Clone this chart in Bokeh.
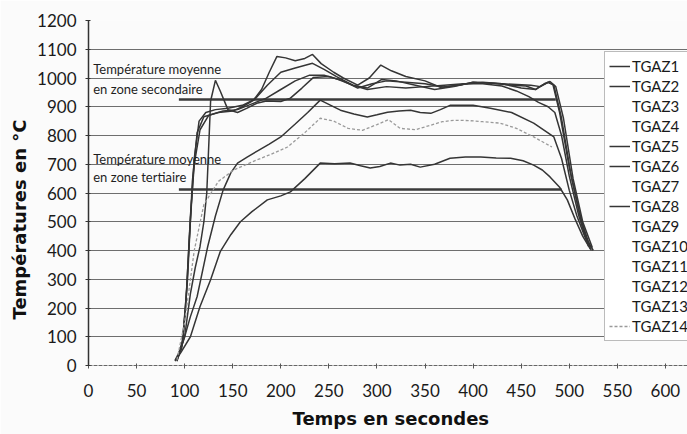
from bokeh.plotting import figure
from bokeh.models import FixedTicker, Label, Legend, LegendItem, Grid, Range1d, Title
from bokeh.embed import file_html
from bokeh.resources import INLINE

# ---------------- data ----------------
x_ticks = [0, 50, 100, 150, 200, 250, 300, 350, 400, 450, 500, 550, 600]
y_ticks = [0, 100, 200, 300, 400, 500, 600, 700, 800, 900, 1000, 1100, 1200]
series_names = ["TGAZ1", "TGAZ2", "TGAZ3", "TGAZ4", "TGAZ5", "TGAZ6", "TGAZ7",
                "TGAZ8", "TGAZ9", "TGAZ10", "TGAZ11", "TGAZ12", "TGAZ13", "TGAZ14"]

t_tgaz1 = [92, 97, 101, 105, 110, 115, 122, 132, 145, 160, 172, 180, 188, 196, 205, 215, 225, 233, 242,
           255, 265, 280, 292, 304, 315, 330, 350, 366, 385, 400, 420, 440, 455, 465, 472, 478, 483, 490,
           500, 510, 518, 525]
v_tgaz1 = [20, 60, 200, 450, 720, 850, 880, 890, 895, 905, 925, 960, 1020, 1075, 1070, 1060, 1068, 1082,
           1050, 1020, 1000, 975, 1000, 1045, 1025, 1005, 990, 968, 975, 985, 982, 975, 972, 960, 975, 985,
           978, 880, 690, 540, 440, 400]

t_tgaz2 = [92, 98, 103, 108, 113, 120, 135, 150, 160, 172, 186, 200, 215, 233, 245, 258, 275, 290, 305,
           320, 340, 360, 380, 400, 430, 460, 470, 478, 484, 492, 502, 512, 522]
v_tgaz2 = [15, 80, 300, 640, 810, 865, 880, 885, 900, 923, 975, 1020, 1035, 1051, 1030, 1005, 975, 965,
           995, 990, 975, 960, 970, 985, 980, 975, 970, 985, 975, 860, 660, 510, 410]

t_tgaz3 = [92, 100, 106, 113, 124, 132, 140, 148, 155, 165, 175, 188, 200, 215, 228, 241, 252, 262, 276,
           290, 300, 311, 323, 335, 345, 356, 366, 376, 388, 400, 418, 440, 463, 484, 492, 500, 508, 516, 523]
v_tgaz3 = [20, 100, 170, 240, 414, 520, 610, 670, 704, 725, 745, 770, 795, 840, 880, 923, 905, 888, 875,
           864, 872, 881, 885, 888, 880, 877, 890, 905, 905, 905, 895, 880, 843, 795, 720, 610, 520, 450, 400]

t_tgaz4, v_tgaz4 = [], []

t_tgaz5 = [92, 98, 102, 106, 110, 116, 125, 140, 155, 170, 185, 200, 215, 230, 245, 260, 275, 290, 310,
           330, 350, 370, 390, 410, 430, 445, 458, 468, 478, 485, 492, 500, 510, 520]
v_tgaz5 = [20, 90, 260, 520, 700, 820, 870, 885, 890, 910, 930, 960, 990, 1010, 1010, 995, 975, 960, 970,
           965, 970, 975, 980, 980, 972, 955, 935, 915, 900, 880, 800, 660, 520, 415]

t_tgaz6 = [90, 95, 100, 106, 111, 116, 120, 123, 125, 127, 132, 137, 145, 155, 165, 175, 185, 200, 210,
           222, 234, 250, 265, 280, 295, 310, 330, 350, 370, 390, 410, 430, 450, 465, 474, 480, 486, 494,
           504, 514, 524]
v_tgaz6 = [18, 50, 100, 250, 340, 414, 500, 600, 760, 920, 992, 955, 890, 880, 895, 912, 920, 918, 930,
           965, 1002, 1005, 990, 965, 980, 990, 985, 980, 968, 978, 985, 980, 965, 960, 980, 988, 970, 860,
           650, 500, 410]

t_tgaz7, v_tgaz7 = [], []

t_tgaz8 = [90, 96, 106, 116, 127, 137, 148, 158, 170, 186, 200, 210, 225, 241, 256, 272, 283, 293, 303,
           314, 324, 335, 345, 360, 376, 392, 408, 424, 439, 452, 463, 472, 480, 490, 498, 506, 514, 522]
v_tgaz8 = [15, 45, 100, 205, 298, 396, 455, 500, 535, 576, 590, 604, 650, 704, 702, 704, 695, 687, 692,
           704, 697, 700, 690, 700, 721, 725, 725, 722, 721, 712, 697, 680, 656, 620, 576, 510, 450, 405]

t_tgaz9, v_tgaz9 = [], []
t_tgaz10, v_tgaz10 = [], []
t_tgaz11, v_tgaz11 = [], []
t_tgaz12, v_tgaz12 = [], []
t_tgaz13, v_tgaz13 = [], []

t_tgaz14 = [92, 100, 110, 120, 135, 151, 175, 190, 207, 225, 241, 255, 270, 285, 300, 312, 324, 340, 355,
            368, 380, 395, 410, 428, 445, 463, 482]
v_tgaz14 = [20, 150, 400, 560, 640, 680, 715, 735, 760, 810, 860, 850, 825, 818, 838, 855, 825, 820, 835,
            848, 853, 852, 848, 843, 825, 795, 760]

mean_secondary = 925
mean_secondary_t = [94, 486]
mean_tertiary = 612
mean_tertiary_t = [94, 492]

series_t = [t_tgaz1, t_tgaz2, t_tgaz3, t_tgaz4, t_tgaz5, t_tgaz6, t_tgaz7,
            t_tgaz8, t_tgaz9, t_tgaz10, t_tgaz11, t_tgaz12, t_tgaz13, t_tgaz14]
series_v = [v_tgaz1, v_tgaz2, v_tgaz3, v_tgaz4, v_tgaz5, v_tgaz6, v_tgaz7,
            v_tgaz8, v_tgaz9, v_tgaz10, v_tgaz11, v_tgaz12, v_tgaz13, v_tgaz14]

# series whose line sample shows in the printed legend
legend_marked = ["TGAZ1", "TGAZ2", "TGAZ5", "TGAZ6", "TGAZ8", "TGAZ14"]

# ---------------- figure ----------------
p = figure(width=687, height=434, x_range=Range1d(0, 623), y_range=Range1d(0, 1200),
           output_backend="svg", toolbar_location=None,
           min_border_left=88, min_border_right=0, min_border_top=20, min_border_bottom=68)
p.background_fill_color = "#fbfbfb"
p.border_fill_color = "#fbfbfb"
p.outline_line_color = None

# axes
p.xaxis.ticker = FixedTicker(ticks=x_ticks)
p.yaxis.ticker = FixedTicker(ticks=y_ticks)
for ax in (p.xaxis[0], p.yaxis[0]):
    ax.major_label_text_font = "Lato"
    ax.major_label_text_font_size = "17px"
    ax.major_label_text_color = "#1a1a1a"
    ax.minor_tick_line_color = None
    ax.major_tick_in = 2
    ax.major_tick_out = 3
p.xaxis.axis_line_color = "#666666"
p.xaxis.axis_line_dash = "4 1"
p.xaxis.major_tick_line_color = "#555555"
p.xaxis.major_label_standoff = 15
p.yaxis.axis_line_color = "#333333"
p.yaxis.axis_line_width = 1.5
p.yaxis.major_tick_line_color = "#333333"
p.yaxis.major_label_standoff = 9

# axis titles
p.add_layout(Title(text="Températures en °C", align="left", offset=46,
                   text_font="DejaVu Sans", text_font_style="bold", text_font_size="18px",
                   text_color="#111111", standoff=10), "left")
p.add_layout(Title(text="Temps en secondes", align="left", offset=204,
                   text_font="DejaVu Sans", text_font_style="bold", text_font_size="18px",
                   text_color="#111111", standoff=12), "below")

# grids
p.xgrid.visible = False
p.ygrid.ticker = FixedTicker(ticks=y_ticks[1:-1])
p.ygrid.grid_line_color = "#555555"
p.ygrid.grid_line_alpha = 0.85
p.ygrid.grid_line_width = 1.2
top_grid = Grid(dimension=1, ticker=FixedTicker(ticks=[1200]), grid_line_color="#999999",
                grid_line_dash="2 3", grid_line_width=1)
p.add_layout(top_grid)

# mean lines
p.line(mean_secondary_t, [mean_secondary] * 2, line_color="#3a3a3a", line_width=2.5)
p.line(mean_tertiary_t, [mean_tertiary] * 2, line_color="#3a3a3a", line_width=2.5)

# series
items = []
for name, ts, vs in zip(series_names, series_t, series_v):
    if name == "TGAZ14":
        r = p.line(ts, vs, line_color="#9a9a9a", line_width=1.3, line_dash="3 2")
    elif name in legend_marked:
        r = p.line(ts, vs, line_color="#353535", line_width=1.5)
    else:
        if ts:
            p.line(ts, vs, line_color="#353535", line_width=1.5)
        r = p.line(ts, vs, line_alpha=0)  # legend shows no line sample for this series
    items.append(LegendItem(label=name, renderers=[r]))

# annotations
txt = dict(text_font="Lato", text_font_size="13px", text_color="#1f1f1f", text_baseline="alphabetic")
p.add_layout(Label(x=4.9, y=1031, text="Température moyenne", **txt))
p.add_layout(Label(x=4.9, y=962, text="en zone secondaire", **txt))
p.add_layout(Label(x=4.9, y=718, text="Température moyenne", **txt))
p.add_layout(Label(x=4.9, y=657, text="en zone tertiaire", **txt))

legend = Legend(items=items, location=(516, 24), label_text_font="Lato", label_text_font_size="15px",
                label_text_color="#1a1a1a", glyph_width=21, glyph_height=20, label_height=20,
                label_standoff=2, spacing=0, padding=4, margin=0,
                border_line_color="#777777", border_line_width=1,
                background_fill_color="#ffffff", background_fill_alpha=1)
p.add_layout(legend)

open("out.html", "w").write(file_html(p, INLINE))
